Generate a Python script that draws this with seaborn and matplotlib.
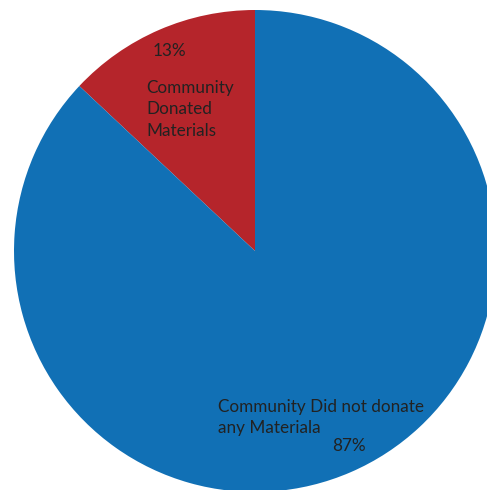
import matplotlib
matplotlib.use("Agg")
import matplotlib.pyplot as plt
import seaborn as sns

# data
categories = ["Community Donated Materials", "Community Did not donate any Materiala"]
shares = [13, 87]
colors = ["#B5252B", "#1170B5"]

# pie geometry in pixels (center, radius) for the 487x490 canvas
W, H = 487, 490
CX, CY, R = 255, 251, 241


def px(x, y):
    # pixel position -> data coords (pie radius = 1)
    return (x - CX) / R, (CY - y) / R


sns.set_theme(style="white")
plt.rcParams["font.family"] = ["Lato", "DejaVu Sans"]

fig = plt.figure(figsize=(W / 100, H / 100), dpi=100)
ax = fig.add_axes([0, 0, 1, 1])

ax.pie(shares, colors=colors, startangle=90, counterclock=True,
       radius=1, wedgeprops=dict(linewidth=0))

ax.set_xlim(-CX / R, (W - CX) / R)
ax.set_ylim(-(H - CY) / R, CY / R)
ax.set_aspect("equal")
ax.axis("off")

txt = dict(color="#222222", fontsize=12.3)

# red wedge labels
ax.text(*px(169, 51), f"{shares[0]}%", ha="center", va="center", **txt)
ax.text(*px(146, 80), "Community\nDonated\nMaterials", ha="left", va="top",
        linespacing=1.42, **txt)

# blue wedge labels
ax.text(*px(218, 399), "Community Did not donate\nany Materiala", ha="left", va="top",
        linespacing=1.42, **txt)
ax.text(*px(349, 446), f"{shares[1]}%", ha="center", va="center", **txt)

fig.savefig("out.png", dpi=100, facecolor="white")
